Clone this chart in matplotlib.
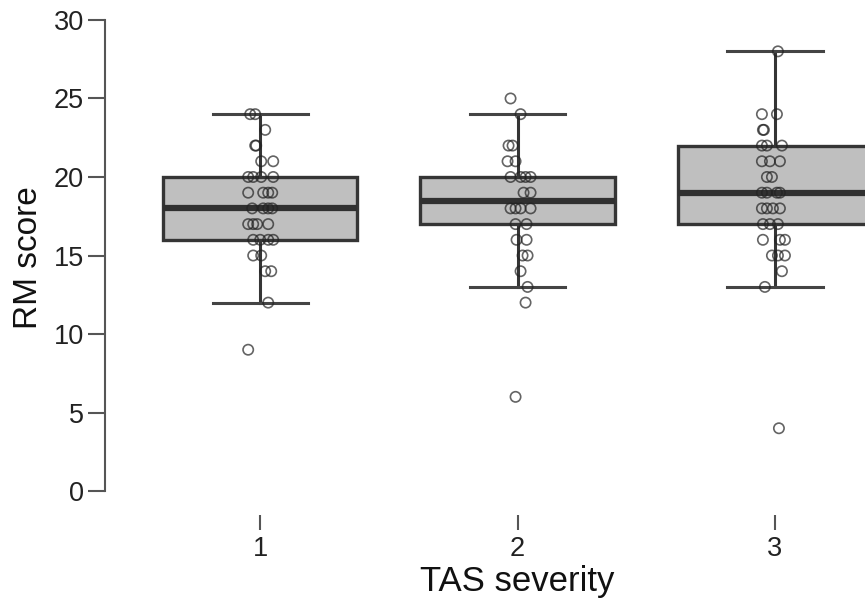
import matplotlib
matplotlib.use("Agg")
import matplotlib.pyplot as plt

plt.rcParams['font.family'] = ['Liberation Sans', 'DejaVu Sans']

groups = [1, 2, 3]
tick_labels = ["1", "2", "3"]

# box statistics
q1 = [16, 17, 17]
medians = [18, 18.5, 19]
q3 = [20, 20, 22]
whisker_low = [12, 13, 13]
whisker_high = [24, 24, 28]

# individual points: values and horizontal jitter (pixels)
g1_values = [24, 24, 23, 22, 22, 21, 21, 20, 20, 20, 20, 19, 19, 19, 19,
             18, 18, 18, 18, 17, 17, 17, 17, 16, 16, 16, 16, 15, 15, 14, 14, 12, 9]
g1_jitter = [-10, -5, 5, -5, -4, 1, 13, -12, -7, 1, 13, -12, 3, 8, 12,
             -8, 3, 8, 12, -12, -7, -3, 8, -7, 0, 8, 13, -7, 1, 5, 11, 8, -12]

g2_values = [25, 24, 22, 22, 21, 21, 20, 20, 20, 20, 19, 19, 18, 18, 18, 18,
             17, 17, 16, 16, 15, 15, 14, 13, 12, 6]
g2_jitter = [-7, 3, -9, -5, -10, -2, -7, 3, 8, 13, 6, 13, -7, -2, 3, 13,
             -2, 9, -1, 9, 5, 10, 3, 10, 8, -2]

g3_values = [28, 24, 24, 23, 23, 22, 22, 22, 21, 21, 21, 20, 20, 19, 19, 19, 19,
             18, 18, 18, 18, 17, 17, 17, 16, 16, 16, 15, 15, 15, 14, 13, 4]
g3_jitter = [3, -13, 2, -12, -11, -13, -8, 7, -13, -5, 5, -8, -3, -13, -8, 2, 5,
             -13, -8, -2, 5, -12, -5, 3, -12, 5, 10, -3, 3, 10, 7, -10, 4]

point_values = [g1_values, g2_values, g3_values]
point_jitter = [g1_jitter, g2_jitter, g3_jitter]

fig = plt.figure(figsize=(8.65, 6.06), dpi=100)
ax = fig.add_axes([0.1214, 0.150, 0.8786, 0.85])

stats = []
for i in range(3):
    stats.append(dict(med=medians[i], q1=q1[i], q3=q3[i],
                      whislo=whisker_low[i], whishi=whisker_high[i], fliers=[]))

ax.bxp(stats, positions=groups, widths=0.755, patch_artist=True,
       showfliers=False, capwidths=0.37,
       boxprops=dict(facecolor='#bfbfbf', edgecolor='#353535', linewidth=2.4),
       medianprops=dict(color='#303030', linewidth=4.5),
       whiskerprops=dict(color='#353535', linewidth=2.2),
       capprops=dict(color='#444444', linewidth=2.2))

px_per_unit = 257.0
for i in range(3):
    xs = [groups[i] + j / px_per_unit for j in point_jitter[i]]
    ax.scatter(xs, point_values[i], s=55, facecolors='none',
               edgecolors='#222222', linewidths=1.2, alpha=0.7, zorder=5)

xmin, xmax = 0.397, 3.35
ax.set_xlim(xmin, xmax)
ax.set_ylim(-1.53, 31.27)
ax.set_yticks([0, 5, 10, 15, 20, 25, 30])
ax.set_xticks(groups)
ax.set_xticklabels(tick_labels)

for s in ['top', 'right', 'bottom']:
    ax.spines[s].set_visible(False)
ax.spines['left'].set_bounds(0, 30)
ax.spines['left'].set_color('#555555')
ax.spines['left'].set_linewidth(1.5)

ax.tick_params(axis='y', length=12, width=1.5, color='#555555',
               labelsize=19.5, labelcolor='#222222', pad=3)
ax.tick_params(axis='x', length=11, width=1.5, color='#555555',
               labelsize=19.5, labelcolor='#222222', pad=4)

ax.set_ylabel("RM score", fontsize=24, color='#111111', labelpad=7)
ax.set_xlabel("TAS severity", fontsize=25, color='#111111', labelpad=2)
ax.xaxis.label.set_x((2 - xmin) / (xmax - xmin))

fig.savefig("out.png", dpi=100)
